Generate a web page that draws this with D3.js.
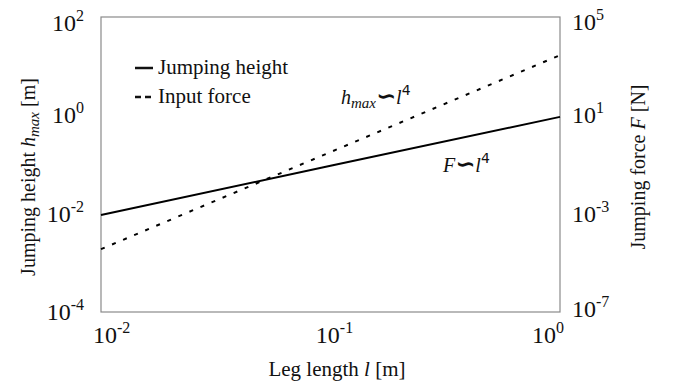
<!DOCTYPE html>
<html>
<head>
<meta charset="utf-8">
<script src="https://cdn.jsdelivr.net/npm/d3@7"></script>
<style>
  body { margin: 0; background: #fff; }
  text { font-family: "Liberation Serif", "DejaVu Serif", serif; fill: #111; }
</style>
</head>
<body>
<div id="canvas"></div>
<script>
// leg length samples [m]
const legLength = [0.01, 0.1, 1];
// jumping height h_max [m] (left axis)
const jumpHeight = [0.0094, 0.094, 0.93];
// input force F [N] (right axis)
const inputForce = [3.6e-5, 0.32, 2800];

const xTicks = [-2, -1, 0];
const leftTicks = [2, 0, -2, -4];
const rightTicks = [5, 1, -3, -7];

const W = 673, H = 386;
const plot = { left: 101, right: 560, top: 17, bottom: 312 };

const svg = d3.select('#canvas')
  .append('svg')
  .attr('width', W)
  .attr('height', H);

const x = d3.scaleLog().domain([1e-2, 1]).range([plot.left, plot.right]);
const yL = d3.scaleLog().domain([1e-4, 1e2]).range([plot.bottom, plot.top]);
const yR = d3.scaleLog().domain([1e-7, 1e5]).range([plot.bottom, plot.top]);

// frame
svg.append('rect')
  .attr('x', plot.left).attr('y', plot.top)
  .attr('width', plot.right - plot.left)
  .attr('height', plot.bottom - plot.top)
  .attr('fill', 'none')
  .attr('stroke', '#8a8a8a')
  .attr('stroke-width', 1.2);

// power-of-ten label helper
function powLabel(g, exp) {
  g.append('tspan').text('10').attr('font-size', 24);
  g.append('tspan').text(exp).attr('font-size', 16).attr('dy', -10);
}

// left ticks
leftTicks.forEach(e => {
  const t = svg.append('text')
    .attr('x', 84)
    .attr('y', yL(Math.pow(10, e)) + 8 + (e === 2 ? 6 : 0))
    .attr('text-anchor', 'end');
  powLabel(t, e);
});

// right ticks
rightTicks.forEach(e => {
  const t = svg.append('text')
    .attr('x', 572)
    .attr('y', yR(Math.pow(10, e)) + 8 + (e === 5 ? 5 : 0) - (e === -7 ? 3 : 0));
  powLabel(t, e);
});

// bottom ticks
xTicks.forEach((e, i) => {
  const anchor = i === 0 ? 'start' : (i === xTicks.length - 1 ? 'end' : 'middle');
  const px = i === 0 ? 93 : (i === xTicks.length - 1 ? 564 : x(Math.pow(10, e)) + 4);
  const t = svg.append('text')
    .attr('x', px)
    .attr('y', 343)
    .attr('text-anchor', anchor);
  powLabel(t, e);
});

// axis titles
const xt = svg.append('text')
  .attr('x', 337).attr('y', 376)
  .attr('text-anchor', 'middle')
  .attr('font-size', 21);
xt.append('tspan').text('Leg length ');
xt.append('tspan').text('l').attr('font-style', 'italic');
xt.append('tspan').text(' [m]');

const yt = svg.append('text')
  .attr('transform', 'translate(35,177) rotate(-90)')
  .attr('text-anchor', 'middle')
  .attr('font-size', 20);
yt.append('tspan').text('Jumping height ');
yt.append('tspan').text('h').attr('font-style', 'italic');
yt.append('tspan').text('max').attr('font-style', 'italic').attr('font-size', 15).attr('dy', 4);
yt.append('tspan').text(' [m]').attr('dy', -4);

const rt = svg.append('text')
  .attr('transform', 'translate(645,167) rotate(-90)')
  .attr('text-anchor', 'middle')
  .attr('font-size', 20);
rt.append('tspan').text('Jumping force ');
rt.append('tspan').text('F').attr('font-style', 'italic');
rt.append('tspan').text(' [N]');

// lines
const heightLine = d3.line()
  .x((d, i) => x(legLength[i]))
  .y(d => yL(d));
const forceLine = d3.line()
  .x((d, i) => x(legLength[i]))
  .y(d => yR(d));

svg.append('path')
  .datum(jumpHeight)
  .attr('d', heightLine)
  .attr('fill', 'none')
  .attr('stroke', '#000')
  .attr('stroke-width', 2);

svg.append('path')
  .datum(inputForce)
  .attr('d', forceLine)
  .attr('fill', 'none')
  .attr('stroke', '#000')
  .attr('stroke-width', 2)
  .attr('stroke-dasharray', '4,8');

// legend
const legend = [
  { label: 'Jumping height', dash: null, y: 74 },
  { label: 'Input force', dash: '6,4', y: 103 }
];
legend.forEach(d => {
  svg.append('line')
    .attr('x1', 135).attr('x2', 153)
    .attr('y1', d.y - 6).attr('y2', d.y - 6)
    .attr('stroke', '#111')
    .attr('stroke-width', 2.5)
    .attr('stroke-dasharray', d.dash);
  svg.append('text')
    .attr('x', 158).attr('y', d.y)
    .attr('font-size', 21)
    .text(d.label);
});

// annotations
const a1 = svg.append('text').attr('x', 341).attr('y', 104).attr('font-size', 20);
a1.append('tspan').text('h').attr('font-style', 'italic');
a1.append('tspan').text('max').attr('font-style', 'italic').attr('font-size', 15).attr('dy', 4);
a1.append('tspan').text('\u223D').attr('dy', -4).attr('font-family', 'DejaVu Sans')
  .attr('font-weight', 'bold').attr('font-size', 24);
a1.append('tspan').text('l').attr('font-style', 'italic');
a1.append('tspan').text('4').attr('font-family', 'DejaVu Sans').attr('font-size', 14).attr('dy', -9);

const a2 = svg.append('text').attr('x', 443).attr('y', 172).attr('font-size', 20);
a2.append('tspan').text('F').attr('font-style', 'italic');
a2.append('tspan').text('\u223D').attr('font-family', 'DejaVu Sans')
  .attr('font-weight', 'bold').attr('font-size', 24);
a2.append('tspan').text('l').attr('font-style', 'italic');
a2.append('tspan').text('4').attr('font-family', 'DejaVu Sans').attr('font-size', 14).attr('dy', -9);
</script>
</body>
</html>
